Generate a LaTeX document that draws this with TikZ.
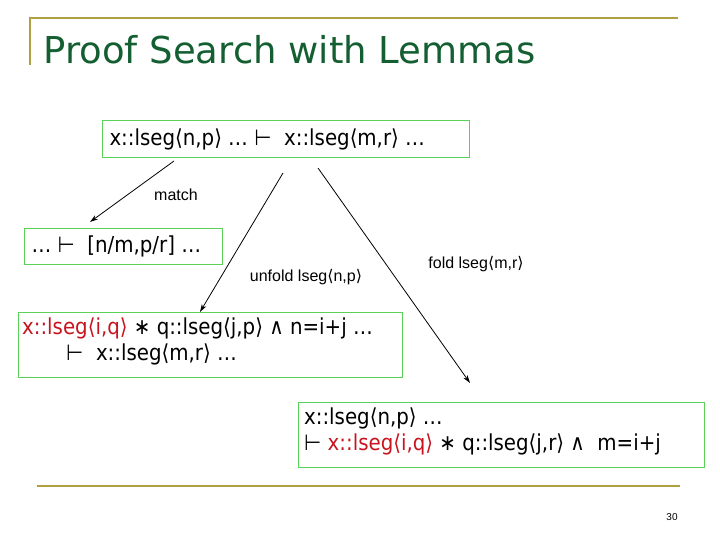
\documentclass[tikz,border=0pt]{standalone}
\usepackage{fontspec}
\setmainfont{DejaVu Sans Condensed}
\newfontfamily\ttlfont{DejaVu Sans}
\newfontfamily\lblfont{Liberation Sans}
\newcommand{\la}{{\ttlfont ⟨}}
\newcommand{\ra}{{\ttlfont ⟩}}
\usetikzlibrary{arrows.meta}
\definecolor{olive}{RGB}{176,160,64}
\definecolor{ttl}{RGB}{20,95,50}
\definecolor{bx}{RGB}{90,210,90}
\definecolor{rd}{RGB}{200,20,30}
\tikzset{
 box/.style={draw=bx,line width=1pt,anchor=north west,inner sep=0pt},
 btxt/.style={font=\fontsize{22}{26}\selectfont},
 lbl/.style={font=\lblfont\fontsize{16}{18}\selectfont},
 arr/.style={-{Stealth[length=8pt,width=5pt]},line width=0.8pt}
}
\begin{document}
\begin{tikzpicture}[x=1pt,y=-1pt]
\useasboundingbox (0,0) rectangle (720,540);
\draw[olive,line width=2pt] (30,65) -- (30,18) -- (678,18);
\draw[olive,line width=2.5pt] (37,486) -- (680,486);
\node[anchor=west,text=ttl,font=\ttlfont\fontsize{37}{42}\selectfont] (title) at (40,50) {Proof Search with Lemmas};
\node[box,minimum width=367pt,minimum height=37pt] (b1) at (102,120) {};
\node[anchor=west,btxt] (t1) at (106,139) {x::lseg⟨n,p⟩ … ⊢ \ x::lseg⟨m,r⟩ …};
\node[box,minimum width=198pt,minimum height=36pt] (b2) at (24,228) {};
\node[anchor=west,btxt] (t2) at (28,246) {… ⊢ \ [n/m,p/r] …};
\node[box,minimum width=384pt,minimum height=65pt] (b3) at (18,312) {};
\node[anchor=north west,align=left,btxt,inner sep=0pt] (t3) at (22,318) {\textcolor{rd}{x::lseg⟨i,q⟩} ∗ q::lseg⟨j,p⟩ ∧ n=i+j …\\\hspace{44pt}⊢ \ x::lseg⟨m,r⟩ …};
\node[box,minimum width=406pt,minimum height=65pt] (b4) at (298,402) {};
\node[anchor=north west,align=left,btxt,inner sep=0pt] (t4) at (304,408) {x::lseg⟨n,p⟩ …\\ ⊢ \textcolor{rd}{x::lseg⟨i,q⟩} ∗ q::lseg⟨j,r⟩ ∧ \ m=i+j};
\coordinate (m0) at (174,161); \coordinate (m1) at (90,222);
\coordinate (u0) at (283,173); \coordinate (u1) at (200,312);
\coordinate (f0) at (318,168); \coordinate (f1) at (470,383);
\draw[arr] (m0) -- (m1);
\draw[arr] (u0) -- (u1);
\draw[arr] (f0) -- (f1);
\node[lbl] (lm) at (176,195) {match};
\node[lbl] (lu) at (306,277) {unfold lseg\la n,p\ra};
\node[lbl] (lf) at (476,264) {fold lseg\la m,r\ra};
\node[font=\lblfont\fontsize{10}{11}\selectfont] (pg) at (672,517) {30};
\end{tikzpicture}
\end{document}
